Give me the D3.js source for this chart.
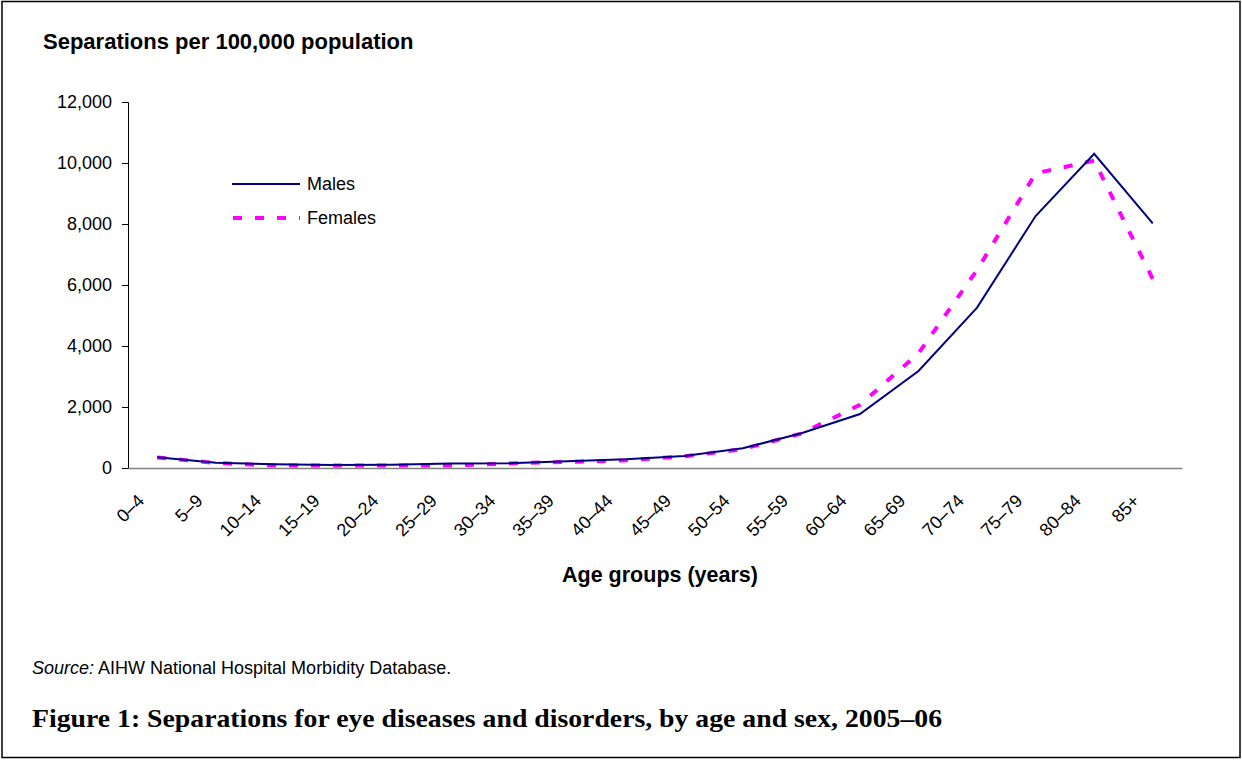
<!DOCTYPE html>
<html><head><meta charset="utf-8">
<script src="https://cdn.jsdelivr.net/npm/d3@7"></script>
<style>
body{margin:0;background:#fff;}
svg{display:block;}
</style></head>
<body>
<script>
const categories = ["0–4","5–9","10–14","15–19","20–24","25–29","30–34","35–39","40–44","45–49","50–54","55–59","60–64","65–69","70–74","75–79","80–84","85+"];
const males   = [350,175,120,100,105,150,155,220,285,395,645,1140,1770,3180,5260,8260,10300,8020];
const females = [345,165,80,78,78,80,150,200,250,380,620,1130,2070,3760,6490,9660,10080,6200];
const yTicks  = [0,2000,4000,6000,8000,10000,12000];

(function(){
const W=1242,H=760;
const SANS="Liberation Sans, Arial, sans-serif";
const svg=d3.select("body").append("svg").attr("width",W).attr("height",H);
svg.append("rect").attr("x",2).attr("y",1.5).attr("width",1238).attr("height",756)
  .attr("fill","none").attr("stroke","#000").attr("stroke-width",1.5);

const mL=128,mR=1182,mT=102,mB=468;
const x=d3.scaleBand().domain(categories).range([mL,mR]);
const y=d3.scaleLinear().domain([0,12000]).range([mB,mT]);

// Y axis
const ya=svg.append("g").attr("transform",`translate(${mL},0)`)
  .call(d3.axisLeft(y).tickValues(yTicks).tickSize(6).tickPadding(10).tickFormat(d3.format(",")));
ya.select(".domain").attr("stroke","#000");
ya.selectAll(".tick line").attr("stroke","#000");
ya.selectAll("text").attr("font-family",SANS).attr("font-size",18).attr("fill","#000");

// X axis
const xa=svg.append("g").attr("transform",`translate(0,${mB})`)
  .call(d3.axisBottom(x).tickSize(0).tickPadding(0));
xa.select(".domain").attr("stroke","#808080").attr("stroke-width",1.5);
xa.selectAll(".tick text").attr("font-family",SANS).attr("font-size",18).attr("fill","#000")
  .attr("text-anchor","end").attr("dy",0)
  .attr("transform","translate(-12,34) rotate(-45)");

const cx=d=>x(d)+x.bandwidth()/2;

const line=d3.line().x((d,i)=>cx(categories[i])).y(d=>y(d));
svg.append("path").datum(females).attr("d",line).attr("fill","none")
  .attr("stroke","#FF00FF").attr("stroke-width",4).attr("stroke-dasharray","9,13");
svg.append("path").datum(males).attr("d",line).attr("fill","none")
  .attr("stroke","#000080").attr("stroke-width",2);

// Legend
const lg=svg.append("g");
lg.append("line").attr("x1",232).attr("x2",300).attr("y1",184).attr("y2",184).attr("stroke","#000080").attr("stroke-width",2);
lg.append("line").attr("x1",233).attr("x2",300).attr("y1",218).attr("y2",218).attr("stroke","#FF00FF").attr("stroke-width",4).attr("stroke-dasharray","9,13");
lg.append("text").attr("x",307).attr("y",190).text("Males")
  .attr("font-family",SANS).attr("font-size",18);
lg.append("text").attr("x",307).attr("y",224).text("Females")
  .attr("font-family",SANS).attr("font-size",18);

// Titles
svg.append("text").attr("x",43).attr("y",49).text("Separations per 100,000 population")
  .attr("font-family",SANS).attr("font-size",22).attr("font-weight","bold");
svg.append("text").attr("x",660).attr("y",582).attr("text-anchor","middle").text("Age groups (years)")
  .attr("font-family",SANS).attr("font-size",21.5).attr("font-weight","bold");

const src=svg.append("text").attr("x",32).attr("y",674)
  .attr("font-family",SANS).attr("font-size",18);
src.append("tspan").attr("font-style","italic").text("Source:");
src.append("tspan").text(" AIHW National Hospital Morbidity Database.");

svg.append("text").attr("x",32).attr("y",727).text("Figure 1: Separations for eye diseases and disorders, by age and sex, 2005–06")
  .attr("font-family","Liberation Serif, serif").attr("font-size",25).attr("font-weight","bold")
  .attr("textLength",910).attr("lengthAdjust","spacingAndGlyphs");
})();
</script>
</body></html>
